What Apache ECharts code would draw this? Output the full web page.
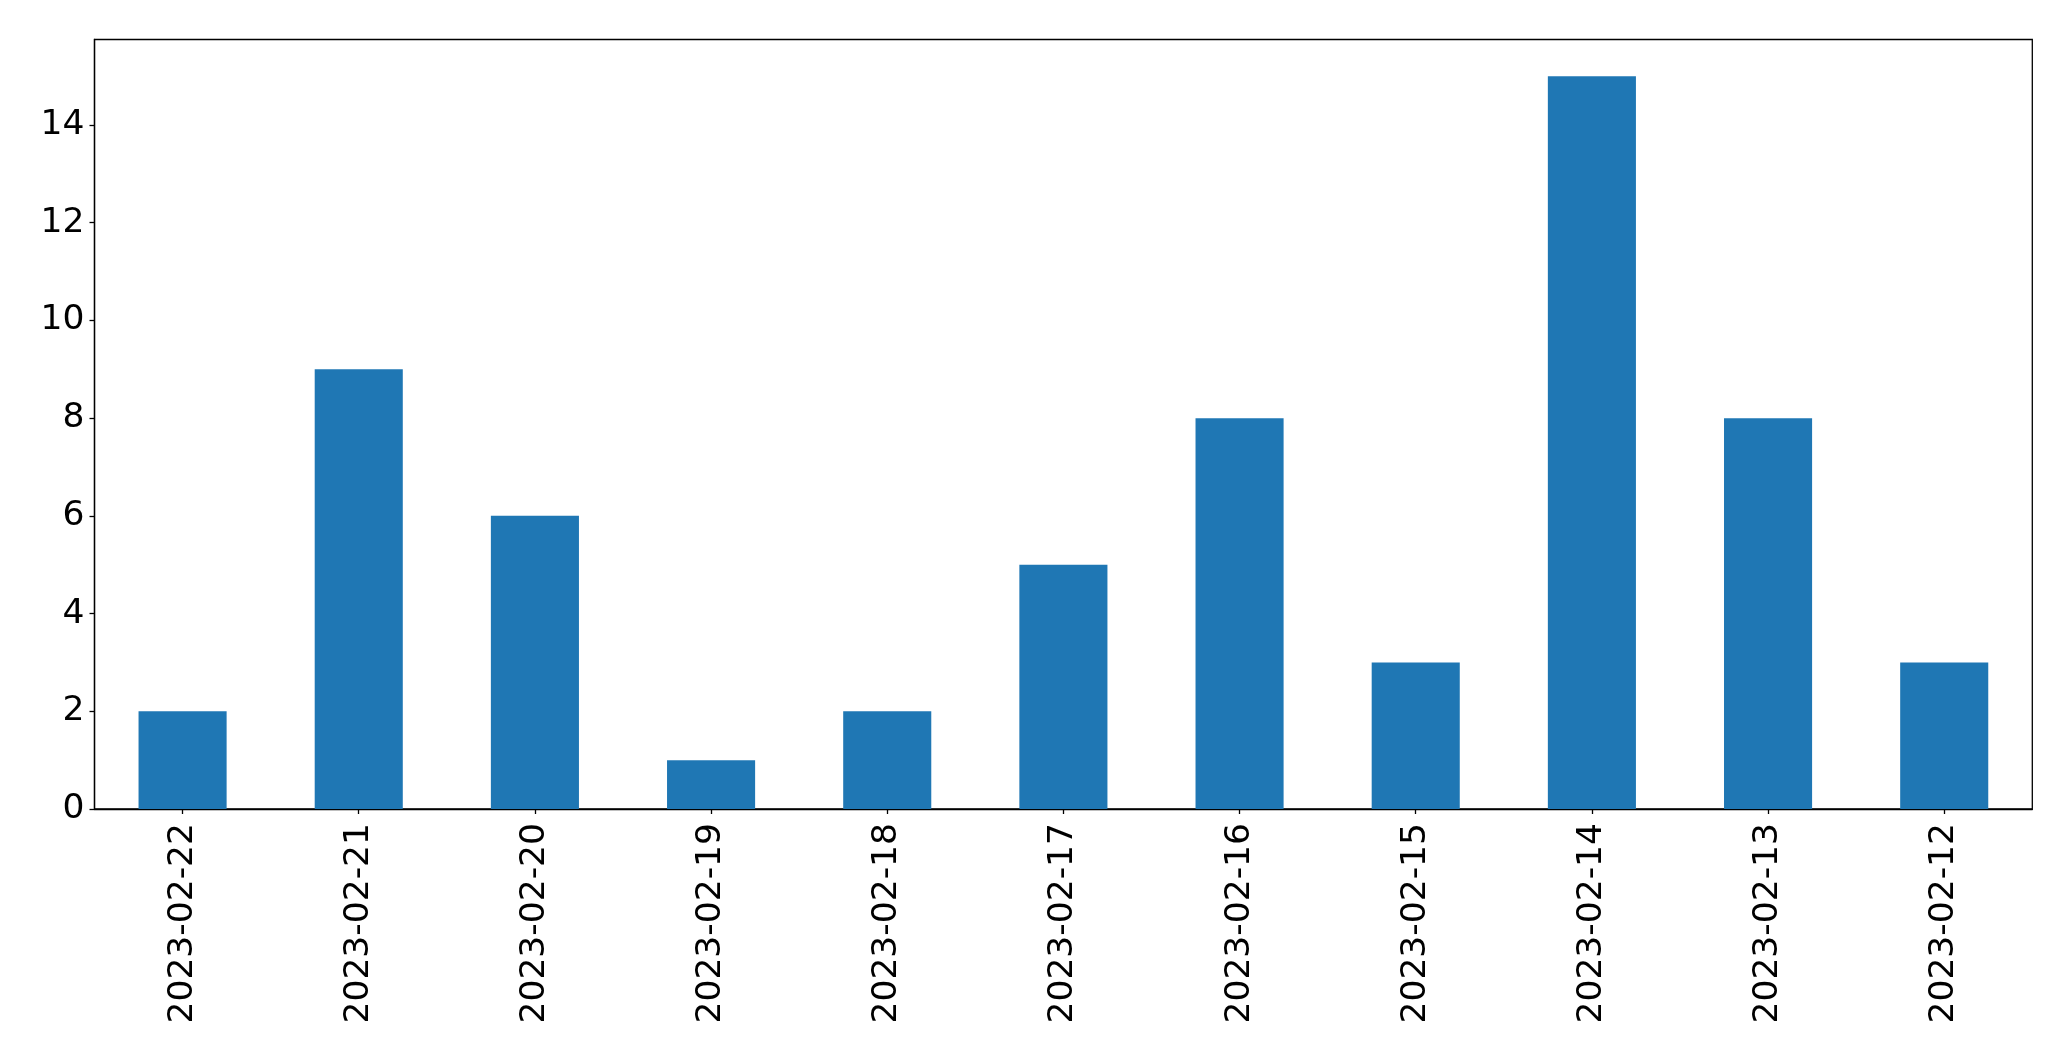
<!DOCTYPE html>
<html>
<head>
<meta charset="utf-8">
<script src="https://cdn.jsdelivr.net/npm/echarts@6/dist/echarts.min.js"></script>
<style>html,body{margin:0;padding:0;background:#fff}#c{width:2071px;height:1061px}</style>
</head>
<body>
<div id="c"></div>
<script>
const categories = ['2023-02-22','2023-02-21','2023-02-20','2023-02-19','2023-02-18','2023-02-17','2023-02-16','2023-02-15','2023-02-14','2023-02-13','2023-02-12'];
const values = [2, 9, 6, 1, 2, 5, 8, 3, 15, 8, 3];
const yMax = 15.75;

const chart = echarts.init(document.getElementById('c'), null, {renderer: 'canvas'});
chart.setOption({
  animation: false,
  backgroundColor: '#fff',
  grid: {left: 94.5, top: 39.5, right: 38.7, bottom: 252, show: true, borderColor: '#000', borderWidth: 1.3, backgroundColor: 'transparent'},
  xAxis: {
    type: 'category',
    data: categories,
    axisLine: {show: true, lineStyle: {color: '#000', width: 1.3}},
    axisTick: {show: true, alignWithLabel: true, length: 5, lineStyle: {color: '#000', width: 1.3}},
    axisLabel: {rotate: 90, margin: 14, color: '#000', fontFamily: 'DejaVu Sans', fontSize: 34.5, interval: 0},
    splitLine: {show: false}
  },
  yAxis: {
    type: 'value',
    min: 0, max: yMax, interval: 2,
    axisLine: {show: true, lineStyle: {color: '#000', width: 1.3}},
    axisTick: {show: true, length: 5, lineStyle: {color: '#000', width: 1.3}},
    axisLabel: {margin: 10, color: '#000', fontFamily: 'DejaVu Sans', fontSize: 34.5, showMaxLabel: false},
    splitLine: {show: false}
  },
  series: [{
    type: 'bar',
    data: values,
    barWidth: '50%',
    itemStyle: {color: '#1f77b4'}
  }]
});
</script>
</body>
</html>
